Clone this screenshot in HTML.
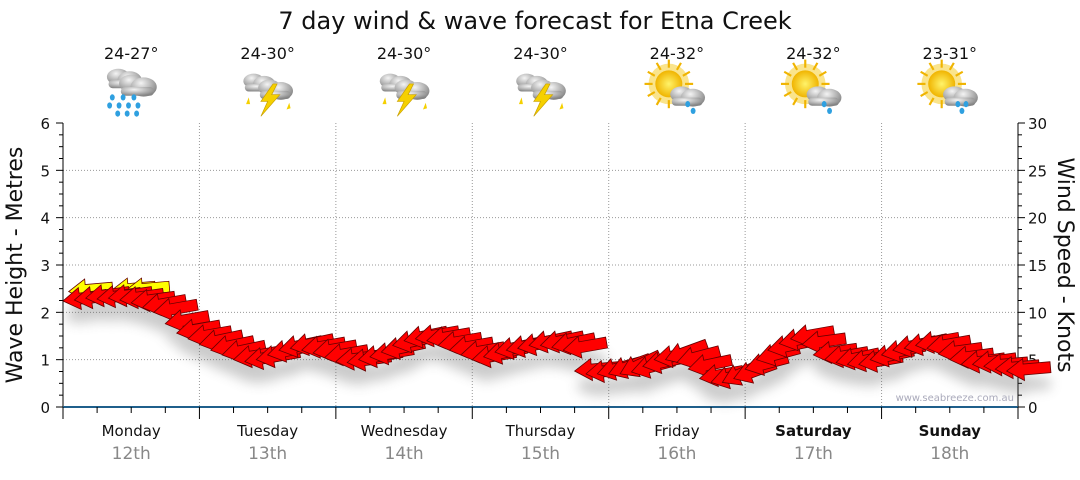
<!DOCTYPE html>
<html><head><meta charset="utf-8">
<style>
body{margin:0;background:#fff;font-family:"Liberation Sans","DejaVu Sans",sans-serif;}
svg text{font-family:"DejaVu Sans","Liberation Sans",sans-serif;}
</style></head>
<body>
<svg id="chart" width="1080" height="475" viewBox="0 0 1080 475" xmlns="http://www.w3.org/2000/svg">
<defs>
  <filter id="shadow" x="-50%" y="-50%" width="200%" height="300%">
    <feGaussianBlur stdDeviation="6"/>
  </filter>
  <radialGradient id="cloudg" cx="40%" cy="30%" r="70%">
    <stop offset="0" stop-color="#f4f4f4"/><stop offset="1" stop-color="#858585"/>
  </radialGradient>
  <radialGradient id="sung" cx="50%" cy="50%" r="50%">
    <stop offset="0" stop-color="#fff36a"/><stop offset="1" stop-color="#f0b400"/>
  </radialGradient>
  <g id="cloud"><ellipse cx="-6" cy="-2" rx="14" ry="10" fill="url(#cloudg)"/><ellipse cx="8" cy="2" rx="15" ry="11" fill="url(#cloudg)"/><rect x="-18" y="2" width="38" height="10" rx="5" fill="url(#cloudg)"/></g>
</defs>
<text x="535" y="29" font-size="24" text-anchor="middle" fill="#111">7 day wind &amp; wave forecast for Etna Creek</text>
<g id="grid"></g>
<g id="axes"></g>
<g id="header"></g>
<g id="shadows" filter="url(#shadow)" opacity="0.3"></g>
<g id="arrows"></g>
<text x="1014" y="401" font-size="10" text-anchor="end" fill="#aab">www.seabreeze.com.au</text>
<text transform="translate(22,265) rotate(-90)" font-size="22" text-anchor="middle" fill="#111">Wave Height - Metres</text>
<text transform="translate(1058,265) rotate(90)" font-size="22" text-anchor="middle" fill="#111">Wind Speed - Knots</text>
</svg>
<script>
const days=["Monday","Tuesday","Wednesday","Thursday","Friday","Saturday","Sunday"];
const dates=["12th","13th","14th","15th","16th","17th","18th"];
const temps=["24-27°","24-30°","24-30°","24-30°","24-32°","24-32°","23-31°"];
const icons=["rain","storm","storm","storm","sunshower","sunshower","sunrain"];
const waveTicks=[0,1,2,3,4,5,6];
const windTicks=[0,5,10,15,20,25,30];
// wind every 2 hours: speed (knots) and rotation (deg, negative = tip down-left)
const windSpeed=[11.2,11.3,11.5,11.4,11.5,11.3,11,10.5,10,8.8,7.8,7.2,6.6,6,5.5,5,4.8,5,5.5,6,6.2,6,5.7,5.2,4.8,4.7,5,5.3,5.8,6.5,7,7.2,7,6.5,6,5.5,5,5.3,5.8,6,6.2,6.5,6.5,6.3,6,3.8,3.5,3.5,3.5,3.5,3.7,4.3,5,5,4.7,4,3,2.6,2.6,3,4,5,6,6.7,7.2,6.6,5.5,5,4.7,4.5,4.5,5,5.5,6,6.2,6.5,6.2,5.6,5,4.5,4.5,4.3,4,3.8];
const windDir=[-8,-8,-8,-8,-8,-8,-8,-10,-10,-10,-10,-10,-12,-12,-12,-10,-10,-10,-12,-12,-12,-10,-10,-10,-8,-8,-10,-10,-12,-12,-12,-10,-10,-10,-10,-10,-10,-12,-12,-12,-12,-12,-12,-12,-10,-5,-8,-15,-20,-25,-15,-12,-10,-20,-15,-12,-10,-15,-25,-20,-15,-15,-12,-12,-10,-8,-8,-10,-12,-12,-10,-12,-12,-12,-12,-10,-10,-8,-8,-8,-8,-5,-5,-5];
const gustHours=[1,8.5,11];
const gustSpeed=[12.2,12.3,12.3];

const X0=63,X1=1018,Y0=407,Y1=123,H=168;
const xs=h=>X0+(X1-X0)*h/H;
const yWave=v=>Y0-(Y0-Y1)*v/6;
const yWind=v=>Y0-(Y0-Y1)*v/30;
const NS="http://www.w3.org/2000/svg";
function mk(tag,attrs,parent){const e=document.createElementNS(NS,tag);for(const k in attrs)e.setAttribute(k,attrs[k]);parent.appendChild(e);return e;}
const grid=document.getElementById('grid'),axes=document.getElementById('axes'),hdr=document.getElementById('header');
waveTicks.forEach(v=>{if(v>0&&v<6){const l=mk('line',{x1:X0,x2:X1,y1:yWave(v),y2:yWave(v),stroke:'#999','stroke-dasharray':'1,2'},grid);

}});
for(let d=1;d<7;d++){const x=xs(d*24);const l=mk('line',{x1:x,x2:x,y1:Y1,y2:Y0,stroke:'#999','stroke-dasharray':'1,2'},grid);

}
mk('line',{x1:X0,x2:X0,y1:Y1,y2:Y0,stroke:'#000'},axes);
mk('line',{x1:X1,x2:X1,y1:Y1,y2:Y0,stroke:'#000'},axes);
mk('line',{x1:X0,x2:X1,y1:Y0,y2:Y0,stroke:'#1f5f8b','stroke-width':2},axes);
for(let v=0;v<=6.001;v+=0.25){const y=yWave(v);mk('line',{x1:X0-(Math.abs(v-Math.round(v))<0.01?7:4),x2:X0,y1:y,y2:y,stroke:'#000'},axes);}
for(let v=0;v<=30.001;v+=1.25){const y=yWind(v);mk('line',{x1:X1,x2:X1+(Math.abs(v/5-Math.round(v/5))<0.01?7:4),y1:y,y2:y,stroke:'#000'},axes);}
for(let h=0;h<=H;h+=6){const x=xs(h);mk('line',{x1:x,x2:x,y1:Y0,y2:Y0+(h%24==0?12:6),stroke:'#000'},axes);}
waveTicks.forEach(v=>{const t=mk('text',{x:50,y:yWave(v)+6,'font-size':15,'text-anchor':'end',fill:'#111'},axes);t.textContent=v;

});
windTicks.forEach(v=>{const t=mk('text',{x:1028,y:yWind(v)+6,'font-size':15,fill:'#111'},axes);t.textContent=v;

});
days.forEach((d,i)=>{const cx=xs(i*24+12);
const t=mk('text',{x:cx,y:436,'font-size':15,'text-anchor':'middle',fill:'#111','font-weight':i>=5?'bold':'normal'},axes);t.textContent=d;


const t2=mk('text',{x:cx,y:459,'font-size':17,'text-anchor':'middle',fill:'#888'},axes);t2.textContent=dates[i];


const t3=mk('text',{x:cx,y:59,'font-size':16,'text-anchor':'middle',fill:'#111'},hdr);t3.textContent=temps[i];


const g=mk('g',{transform:`translate(${cx},92) scale(1.35)`},hdr);


const ic=icons[i];
if(ic.startsWith('sun')){mk('circle',{cx:-6,cy:-6,r:15,fill:'#f5c400',opacity:0.45},g);mk('circle',{cx:-6,cy:-6,r:10,fill:'url(#sung)'},g);
for(let a=0;a<12;a++){const r=a*Math.PI/6;mk('line',{x1:-6+Math.cos(r)*12,y1:-6+Math.sin(r)*12,x2:-6+Math.cos(r)*18,y2:-6+Math.sin(r)*18,stroke:'#f0b400','stroke-width':1.6},g);}
mk('use',{href:'#cloud',transform:'translate(7,3) scale(0.6)'},g);}
else if(ic=='rain'){mk('use',{href:'#cloud',transform:'translate(-6,-10) scale(0.6)'},g);mk('use',{href:'#cloud',transform:'translate(4,-5) scale(0.65)'},g);}
else{mk('use',{href:'#cloud',transform:'translate(-7,-7) scale(0.55)'},g);mk('use',{href:'#cloud',transform:'translate(5,-2) scale(0.6)'},g);}
if(ic=='storm'){mk('polygon',{points:'4,-6 -5,7 0,7 -5,18 9,2 3,2 7,-6',fill:'#f5d000',stroke:'#c9a000','stroke-width':0.5},g);
mk('polygon',{points:'-14,4 -16,9 -13,9',fill:'#f5d000'},g);mk('polygon',{points:'16,8 14,13 17,12',fill:'#f5d000'},g);}
const drops=ic=='rain'?[[-18,4],[-10,4],[-2,4],[-20,10],[-13,10],[-6,10],[1,10],[-14,16],[-7,16],[0,16]]:(ic=='storm'?[]:(ic=='sunshower'?[[4,9],[8,14]]:[[2,9],[8,9],[5,14]]));
drops.forEach(p=>mk('ellipse',{cx:p[0]+4,cy:p[1],rx:1.8,ry:2.3,fill:'#2fa0e0'},g));
});
const ARW="M0,0 L17,-11 L17,-5.5 L44,-5.5 L44,5.5 L17,5.5 L17,11 Z";
const arrows=document.getElementById('arrows'),sh=document.getElementById('shadows');
function drawArrow(h,v,rot,color){const x=xs(h),y=yWind(v);
const s=mk('path',{d:ARW,transform:`translate(${x},${y+16}) rotate(${rot})`,fill:'#555'},sh);


const p=mk('path',{d:ARW,transform:`translate(${x},${y}) rotate(${rot})`,fill:color,stroke:'#600','stroke-width':0.8},arrows);

}
gustHours.forEach((h,i)=>drawArrow(h,gustSpeed[i],-5,'#ffff00'));
windSpeed.forEach((v,i)=>drawArrow(i*2,v,windDir[i],'#ff0000'));
</script>
</body></html>
